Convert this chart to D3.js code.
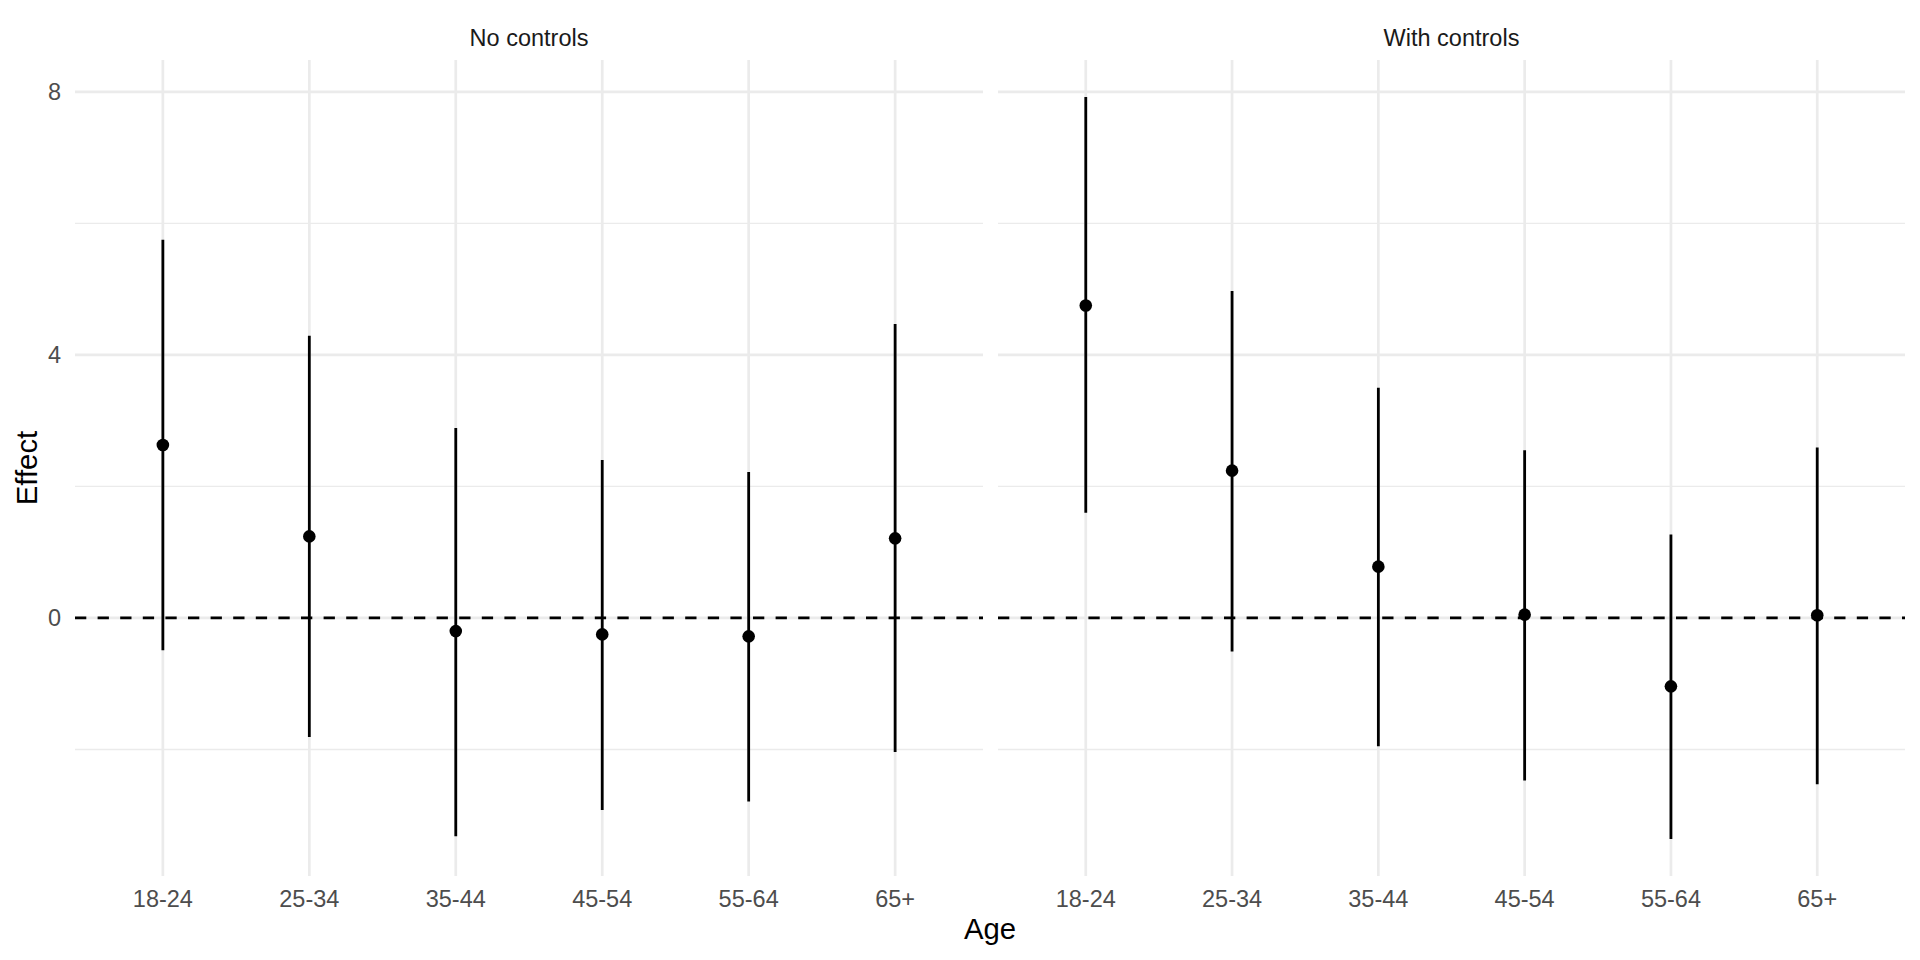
<!DOCTYPE html>
<html>
<head>
<meta charset="utf-8">
<script src="https://cdn.jsdelivr.net/npm/d3@7"></script>
<style>
  html, body { margin: 0; padding: 0; background: #ffffff; }
  svg { display: block; font-family: "Liberation Sans", Arial, Helvetica, sans-serif; }
</style>
</head>
<body>
<svg id="chart" width="1920" height="960"></svg>
<script>
// ---- Data ----
const ageGroups = ["18-24", "25-34", "35-44", "45-54", "55-64", "65+"];
const panels = ["No controls", "With controls"];

const noControlsEst   = [2.63, 1.24, -0.20, -0.25, -0.28, 1.21];
const noControlsLow   = [-0.49, -1.81, -3.32, -2.92, -2.79, -2.04];
const noControlsHigh  = [5.75, 4.29, 2.89, 2.40, 2.22, 4.47];

const withControlsEst  = [4.75, 2.24, 0.78, 0.05, -1.04, 0.04];
const withControlsLow  = [1.60, -0.51, -1.95, -2.47, -3.36, -2.53];
const withControlsHigh = [7.92, 4.97, 3.50, 2.55, 1.27, 2.59];

const yMajorTicks = [0, 4, 8];
const yMinorTicks = [-2, 2, 6];
const refLine = 0;

const xTitle = "Age";
const yTitle = "Effect";

// ---- Build table ----
const panelData = [
  { name: panels[0], est: noControlsEst, low: noControlsLow, high: noControlsHigh },
  { name: panels[1], est: withControlsEst, low: withControlsLow, high: withControlsHigh }
];

// ---- Layout ----
const panelTop = 60, panelBottom = 876;
const panelX = [[75, 983], [998, 1905]];

const allVals = panelData.flatMap(p => p.low.concat(p.high));
const yMin = d3.min(allVals), yMax = d3.max(allVals);
const pad = (yMax - yMin) * 0.05;
const y = d3.scaleLinear().domain([yMin - pad, yMax + pad]).range([panelBottom, panelTop]);

const svg = d3.select("#chart");
const gridCol = "#ebebeb";

panelData.forEach((p, i) => {
  const [x0, x1] = panelX[i];
  const x = d3.scalePoint().domain(ageGroups).range([x0, x1]).padding(0.6);
  const g = svg.append("g");

  // minor horizontal gridlines
  g.selectAll("line.minor").data(yMinorTicks).enter().append("line")
    .attr("x1", x0).attr("x2", x1)
    .attr("y1", d => y(d)).attr("y2", d => y(d))
    .attr("stroke", gridCol).attr("stroke-width", 1.4);

  // major horizontal gridlines
  g.selectAll("line.major").data(yMajorTicks).enter().append("line")
    .attr("x1", x0).attr("x2", x1)
    .attr("y1", d => y(d)).attr("y2", d => y(d))
    .attr("stroke", gridCol).attr("stroke-width", 2.7);

  // vertical gridlines
  g.selectAll("line.vgrid").data(ageGroups).enter().append("line")
    .attr("x1", d => x(d)).attr("x2", d => x(d))
    .attr("y1", panelTop).attr("y2", panelBottom)
    .attr("stroke", gridCol).attr("stroke-width", 2.7);

  // dashed reference line
  g.append("line")
    .attr("x1", x0).attr("x2", x1)
    .attr("y1", y(refLine)).attr("y2", y(refLine))
    .attr("stroke", "#000").attr("stroke-width", 2.8)
    .attr("stroke-dasharray", "11.3,11.3");

  // error bars
  g.selectAll("line.err").data(ageGroups).enter().append("line")
    .attr("x1", d => x(d)).attr("x2", d => x(d))
    .attr("y1", (d, j) => y(p.low[j])).attr("y2", (d, j) => y(p.high[j]))
    .attr("stroke", "#000").attr("stroke-width", 2.8);

  // points
  g.selectAll("circle").data(ageGroups).enter().append("circle")
    .attr("cx", d => x(d)).attr("cy", (d, j) => y(p.est[j]))
    .attr("r", 6.3).attr("fill", "#000");

  // x tick labels
  g.selectAll("text.xt").data(ageGroups).enter().append("text")
    .attr("x", d => x(d)).attr("y", 906.5)
    .attr("text-anchor", "middle")
    .attr("font-size", 23.5).attr("fill", "#4d4d4d")
    .text(d => d);

  // strip title
  g.append("text")
    .attr("x", (x0 + x1) / 2).attr("y", 46)
    .attr("text-anchor", "middle")
    .attr("font-size", 23.5).attr("fill", "#1a1a1a")
    .text(p.name);
});

// y tick labels (left panel only)
svg.selectAll("text.yt").data(yMajorTicks).enter().append("text")
  .attr("x", 61).attr("y", d => y(d))
  .attr("dy", "0.35em")
  .attr("text-anchor", "end")
  .attr("font-size", 23.5).attr("fill", "#4d4d4d")
  .text(d => d);

// axis titles
svg.append("text")
  .attr("x", (panelX[0][0] + panelX[1][1]) / 2).attr("y", 938.5)
  .attr("text-anchor", "middle")
  .attr("font-size", 29.3).attr("fill", "#000")
  .text(xTitle);

svg.append("text")
  .attr("transform", `translate(36.5, ${(panelTop + panelBottom) / 2}) rotate(-90)`)
  .attr("text-anchor", "middle")
  .attr("font-size", 29.3).attr("fill", "#000")
  .text(yTitle);
</script>
</body>
</html>
